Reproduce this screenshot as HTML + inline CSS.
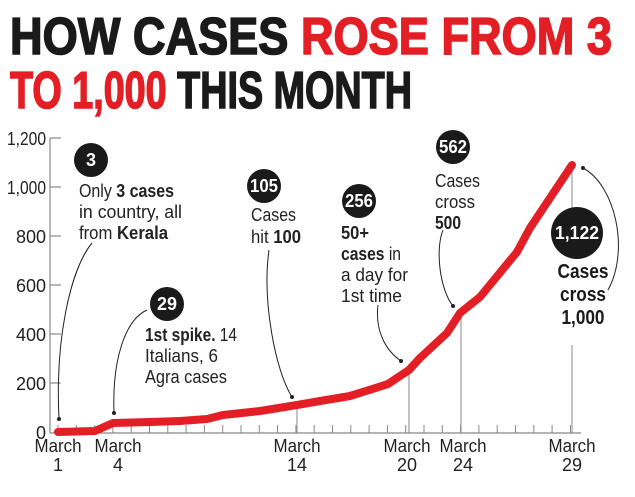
<!DOCTYPE html>
<html><head><meta charset="utf-8"><style>
html,body{margin:0;padding:0;background:#fff;}
svg{display:block;}
text{font-family:"Liberation Sans Narrow","Liberation Sans",sans-serif;}
</style></head><body>
<svg width="635" height="497" viewBox="0 0 635 497" xmlns="http://www.w3.org/2000/svg">
<!-- Title -->
<text x="10" y="54" font-size="52" font-weight="bold" stroke-width="1.6" textLength="602" lengthAdjust="spacingAndGlyphs"><tspan fill="#1a1a1a" stroke="#1a1a1a">HOW CASES </tspan><tspan fill="#e31e24" stroke="#e31e24">ROSE FROM 3</tspan></text>
<text x="10" y="108" font-size="52" font-weight="bold" stroke-width="1.6" textLength="402" lengthAdjust="spacingAndGlyphs"><tspan fill="#e31e24" stroke="#e31e24">TO 1,000</tspan><tspan fill="#1a1a1a" stroke="#1a1a1a"> THIS MONTH</tspan></text>

<!-- Axes -->
<g stroke="#888" stroke-width="1.2" fill="none">
<line x1="50" y1="138" x2="50" y2="433"/>
<line x1="50" y1="433" x2="581" y2="433"/>
<line x1="50" y1="138" x2="61" y2="138"/>
<line x1="50" y1="187" x2="61" y2="187"/>
<line x1="50" y1="236" x2="61" y2="236"/>
<line x1="50" y1="285" x2="61" y2="285"/>
<line x1="50" y1="334" x2="61" y2="334"/>
<line x1="50" y1="383" x2="61" y2="383"/>
</g>
<g stroke="#888" stroke-width="1">
<line x1="58" y1="425" x2="58" y2="433"/><line x1="76.3" y1="425" x2="76.3" y2="433"/><line x1="94.6" y1="425" x2="94.6" y2="433"/><line x1="112.9" y1="425" x2="112.9" y2="433"/><line x1="131.2" y1="425" x2="131.2" y2="433"/><line x1="149.5" y1="425" x2="149.5" y2="433"/><line x1="167.8" y1="425" x2="167.8" y2="433"/><line x1="186.1" y1="425" x2="186.1" y2="433"/><line x1="204.4" y1="425" x2="204.4" y2="433"/><line x1="222.7" y1="425" x2="222.7" y2="433"/><line x1="241" y1="425" x2="241" y2="433"/><line x1="259.3" y1="425" x2="259.3" y2="433"/><line x1="277.6" y1="425" x2="277.6" y2="433"/><line x1="295.9" y1="425" x2="295.9" y2="433"/><line x1="314.2" y1="425" x2="314.2" y2="433"/><line x1="332.5" y1="425" x2="332.5" y2="433"/><line x1="350.8" y1="425" x2="350.8" y2="433"/><line x1="369.1" y1="425" x2="369.1" y2="433"/><line x1="387.4" y1="425" x2="387.4" y2="433"/><line x1="405.7" y1="425" x2="405.7" y2="433"/><line x1="424" y1="425" x2="424" y2="433"/><line x1="442.3" y1="425" x2="442.3" y2="433"/><line x1="460.6" y1="425" x2="460.6" y2="433"/><line x1="478.9" y1="425" x2="478.9" y2="433"/><line x1="497.2" y1="425" x2="497.2" y2="433"/><line x1="515.5" y1="425" x2="515.5" y2="433"/><line x1="533.8" y1="425" x2="533.8" y2="433"/><line x1="552.1" y1="425" x2="552.1" y2="433"/><line x1="570.4" y1="425" x2="570.4" y2="433"/>
<line x1="297" y1="404" x2="297" y2="433"/>
<line x1="409" y1="368" x2="409" y2="433"/>
<line x1="461" y1="318" x2="461" y2="433"/>
<line x1="572" y1="165" x2="572" y2="210"/>
<line x1="572" y1="345" x2="572" y2="433"/>
</g>
<g font-size="18" fill="#222" text-anchor="end">
<text x="46" y="145" textLength="39" lengthAdjust="spacingAndGlyphs">1,200</text><text x="46" y="194" textLength="39" lengthAdjust="spacingAndGlyphs">1,000</text><text x="46" y="243">800</text><text x="46" y="292">600</text><text x="46" y="341">400</text><text x="46" y="390">200</text><text x="46" y="439">0</text>
</g>
<g font-size="18" fill="#222" text-anchor="middle">
<text x="58" y="452" textLength="47" lengthAdjust="spacingAndGlyphs">March</text><text x="58" y="471">1</text>
<text x="118" y="452" textLength="47" lengthAdjust="spacingAndGlyphs">March</text><text x="118" y="471">4</text>
<text x="297" y="452" textLength="47" lengthAdjust="spacingAndGlyphs">March</text><text x="297" y="471">14</text>
<text x="407" y="452" textLength="47" lengthAdjust="spacingAndGlyphs">March</text><text x="407" y="471">20</text>
<text x="463" y="452" textLength="47" lengthAdjust="spacingAndGlyphs">March</text><text x="463" y="471">24</text>
<text x="572" y="452" textLength="47" lengthAdjust="spacingAndGlyphs">March</text><text x="572" y="471">29</text>
</g>

<!-- Series -->
<polyline fill="none" stroke="#e31e24" stroke-width="8" stroke-linecap="round" stroke-linejoin="round"
points="58,432 95,431 113,423 150,422 180,421 207,419 223,415 260,411 297,405 320,401 350,396 388,384 409,370 420,358 447,333 460,313 480,297 517,252 530,228 572,165"/>

<!-- Annotation connectors -->
<g fill="none" stroke="#222" stroke-width="1">
<path d="M92,243 C70,270 55,340 59,419"/>
<path d="M147,310 C125,320 112,360 114,413"/>
<path d="M269,250 C262,300 275,370 292,397"/>
<path d="M378,305 C375,330 385,350 401,361"/>
<path d="M443,230 C435,250 440,290 453,306"/>
<path d="M608,290 C630,250 615,185 583,168"/>
</g>
<g fill="#222">
<circle cx="59" cy="419" r="2"/><circle cx="114" cy="413" r="2"/><circle cx="292" cy="397" r="2"/><circle cx="401" cy="361" r="2"/><circle cx="453" cy="306" r="2"/><circle cx="583" cy="168" r="2"/>
</g>

<!-- Badges -->
<g fill="#1a1a1a">
<circle cx="91" cy="160" r="17"/>
<circle cx="167" cy="304" r="17"/>
<circle cx="264" cy="186" r="17"/>
<circle cx="359" cy="201" r="17"/>
<circle cx="453" cy="147" r="17"/>
<circle cx="577" cy="233" r="26"/>
</g>
<g fill="#fff" font-weight="bold" text-anchor="middle" font-size="18">
<text x="91" y="166">3</text>
<text x="167" y="310" textLength="20" lengthAdjust="spacingAndGlyphs">29</text>
<text x="264" y="192" textLength="28" lengthAdjust="spacingAndGlyphs">105</text>
<text x="359" y="207" textLength="28" lengthAdjust="spacingAndGlyphs">256</text>
<text x="453" y="153" textLength="28" lengthAdjust="spacingAndGlyphs">562</text>
<text x="577" y="239" textLength="44" lengthAdjust="spacingAndGlyphs">1,122</text>
</g>

<!-- Annotation text -->
<g font-size="18" fill="#222">
<text x="79" y="197" textLength="95" lengthAdjust="spacingAndGlyphs">Only <tspan font-weight="bold">3 cases</tspan></text>
<text x="79" y="218" textLength="103" lengthAdjust="spacingAndGlyphs">in country, all</text>
<text x="79" y="239" textLength="89" lengthAdjust="spacingAndGlyphs">from <tspan font-weight="bold">Kerala</tspan></text>
<text x="145" y="341" textLength="92" lengthAdjust="spacingAndGlyphs"><tspan font-weight="bold">1st spike.</tspan> 14</text>
<text x="145" y="362" textLength="73" lengthAdjust="spacingAndGlyphs">Italians, 6</text>
<text x="145" y="383" textLength="82" lengthAdjust="spacingAndGlyphs">Agra cases</text>
<text x="251" y="221" textLength="45" lengthAdjust="spacingAndGlyphs">Cases</text>
<text x="251" y="243" textLength="50" lengthAdjust="spacingAndGlyphs">hit <tspan font-weight="bold">100</tspan></text>
<text x="341" y="239" font-weight="bold" textLength="28" lengthAdjust="spacingAndGlyphs">50+</text>
<text x="341" y="260" textLength="60" lengthAdjust="spacingAndGlyphs"><tspan font-weight="bold">cases</tspan> in</text>
<text x="341" y="281" textLength="67" lengthAdjust="spacingAndGlyphs">a day for</text>
<text x="341" y="302" textLength="61" lengthAdjust="spacingAndGlyphs">1st time</text>
<text x="435" y="187" textLength="45" lengthAdjust="spacingAndGlyphs">Cases</text>
<text x="435" y="208" textLength="40" lengthAdjust="spacingAndGlyphs">cross</text>
<text x="435" y="229" font-weight="bold" textLength="26" lengthAdjust="spacingAndGlyphs">500</text>
</g>
<g font-size="20" fill="#1a1a1a" font-weight="bold" text-anchor="middle">
<text x="583" y="278" textLength="51" lengthAdjust="spacingAndGlyphs">Cases</text>
<text x="583" y="301" textLength="46" lengthAdjust="spacingAndGlyphs">cross</text>
<text x="583" y="324" textLength="43" lengthAdjust="spacingAndGlyphs">1,000</text>
</g>
</svg>
</body></html>
